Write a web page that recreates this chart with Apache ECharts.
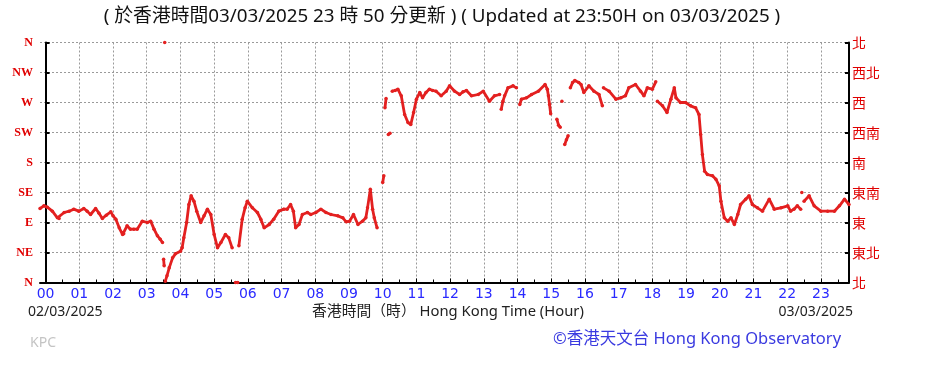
<!DOCTYPE html>
<html><head><meta charset="utf-8">
<script src="https://cdn.jsdelivr.net/npm/echarts@6/dist/echarts.min.js"></script>
<style>html,body{margin:0;padding:0;background:#fff}#c{width:938px;height:370px}</style>
</head><body><div id="c"></div>
<script>
// minutes after 00:00 on 02/03/2025 (null direction = gap in record)
const times = [
-10,-3,3,12,21,24,33,42,50,59,68,74,80,89,95,101,108,116,120,125,131,137,139,145,151,157,163,172,181,187,193,199,204,208,
209,210,211,211.5,212,212.5,
213,216,220,226,231,240,243,246,251,255,259,264,269,276,282,288,294,300,306,312,320,326,332,
335,338,342,343,
344,350,355,359,368,377,383,389,398,406,415,424,430,436,441,445,451,457,466,472,481,490,499,508,520,529,535,541,548,556,564,570,573,578,582,585,590,
595,600,602,603,604,606,608,610,613,615,
617,622,627,633,639,645,650,655,660,666,671,677,683,689,695,704,713,719,728,737,743,749,758,770,779,790,799,808,
809.5,811,814,817,823,832,838,841,
844,847,856,865,877,889,893,895,897,899,905,910,913,916,917,919,921,924,927,930,932,
934,938,942,949,953,958,967,976,985,991,992,
993,1003,1015,1024,1032,1038,1050,1059,1065,1071,1080,1086,1087,
1089,1098,1106,1113,1119,1122,1130,1139,1148,1157,1163,1166,1169,1173,1178,1187,1193,1199,1202,1208,1214,1220,1226,1232,1237,1246,1252,1258,1267,1276,1288,1297,1309,1321,1326,1332,1338,1344,
1345,1346,1347,
1350,1359,1368,1380,1392,1404,1413,1422,1430
];
const dirs = [
111,115,113,107,97,96,105,107,110,107,111,107,102,111,104,96,101,106,100,95,82,72,73,85,80,80,80,92,90,92,80,70,65,60,
null,35,25,null,360,null,
2,10,22,37,43,47,52,67,90,117,130,122,107,90,100,110,102,72,52,60,72,67,52,
null,0,0,null,
55,95,112,122,112,105,95,82,87,95,107,110,110,117,107,82,87,102,105,102,105,110,105,102,100,97,91,92,102,87,92,97,112,140,110,97,82,
null,150,160,null,262,276,null,222,224,null,
287,288,290,280,252,240,237,255,275,285,277,285,290,288,287,280,287,295,287,282,286,288,280,282,287,272,280,282,
null,260,272,280,292,295,292,null,
267,275,277,282,287,297,290,280,267,253,null,245,236,233,null,272,null,207,214,220,null,
292,300,303,300,297,285,295,287,282,265,null,
292,287,275,277,280,292,297,287,280,292,290,301,null,
272,265,255,275,292,277,270,270,265,262,252,222,192,167,162,160,155,145,122,97,92,97,87,102,117,125,130,117,112,107,125,110,112,115,107,110,115,110,
null,135,null,
122,130,115,107,107,107,115,125,117
];
const hourLabels = ['00','01','02','03','04','05','06','07','08','09','10','11','12','13','14','15','16','17','18','19','20','21','22','23'];
const dirLabelsEn = ['N','NE','E','SE','S','SW','W','NW','N'];
const dirLabelsZh = ['北','東北','東','東南','南','西南','西','西北','北'];

const seriesData = times.map((t, i) => [t, dirs[i] === null ? '-' : dirs[i]]);

const RED = '#e32020';
const chart = echarts.init(document.getElementById('c'), null, {renderer: 'canvas'});
const gridTop = 42.5, gridBottom = 87.5, gridLeft = 40, gridRight = 89;
const plotW = 938 - gridLeft - gridRight;
const xMin = -10, xMax = 1430;
const grid1Left = gridLeft + (0 - xMin) / (xMax - xMin) * plotW;

chart.setOption({
  animation: false,
  grid: [
    {left: gridLeft, right: gridRight, top: gridTop, bottom: gridBottom},
    {left: grid1Left, right: gridRight, top: gridTop, bottom: gridBottom}
  ],
  xAxis: [
    {gridIndex: 0, type: 'value', min: xMin, max: xMax,
     axisLine: {show: true, onZero: false, lineStyle: {color: '#000', width: 2}},
     axisTick: {show: false}, axisLabel: {show: false}, splitLine: {show: false}},
    {gridIndex: 1, type: 'value', min: 0, max: xMax, interval: 60,
     axisLine: {show: false},
     axisTick: {show: true, inside: true, length: 4, lineStyle: {color: '#000'}},
     minorTick: {show: true, splitNumber: 2, length: 3, lineStyle: {color: '#000'}},
     axisLabel: {color: '#2a2aff', fontSize: 14, fontFamily: 'DejaVu Sans', margin: 5,
       formatter: v => (v % 60 === 0 && v / 60 < 24) ? hourLabels[v / 60] : ''},
     splitLine: {show: true, lineStyle: {color: '#9a9a9a', type: [2, 2], width: 1}}}
  ],
  yAxis: [
    {gridIndex: 0, type: 'value', min: 0, max: 360, interval: 45, position: 'left',
     axisLine: {show: true, lineStyle: {color: '#000', width: 2}},
     axisTick: {show: true, inside: true, length: 4, lineStyle: {color: '#000', width: 2}},
     axisLabel: {color: '#e00000', fontFamily: 'Liberation Serif', fontSize: 12, fontWeight: 'bold', margin: 7,
       formatter: v => dirLabelsEn[Math.round(v / 45)]},
     splitLine: {show: true, lineStyle: {color: '#9a9a9a', type: [2, 2], width: 1}}},
    {gridIndex: 1, type: 'value', min: 0, max: 360, show: false, splitLine: {show: false}},
    {gridIndex: 0, type: 'value', min: 0, max: 360, interval: 45, position: 'right',
     axisLine: {show: true, lineStyle: {color: '#000', width: 2}},
     axisTick: {show: true, inside: true, length: 4, lineStyle: {color: '#000', width: 2}},
     axisLabel: {color: '#e00000', fontFamily: 'Noto Sans CJK TC', fontSize: 14, margin: 3,
       formatter: v => dirLabelsZh[Math.round(v / 45)]},
     splitLine: {show: false}}
  ],
  series: [{
    type: 'line', xAxisIndex: 0, yAxisIndex: 0, data: seriesData,
    connectNulls: false, showSymbol: true, symbol: 'circle', symbolSize: 3.5,
    lineStyle: {color: RED, width: 2.8}, itemStyle: {color: RED}, clip: false
  }],
  graphic: [
    {type: 'text', x: 442, y: 17, style: {
      text: '( 於香港時間03/03/2025 23 時 50 分更新 ) ( Updated at 23:50H on 03/03/2025 )',
      fill: '#111', font: '18.8px "Noto Sans", "Noto Sans CJK TC"', align: 'center', verticalAlign: 'middle'}},
    {type: 'text', x: 28, y: 312, style: {text: '02/03/2025', fill: '#222', font: '14px "Noto Sans"', verticalAlign: 'middle'}},
    {type: 'text', x: 448, y: 312, style: {text: '香港時間（時） Hong Kong Time (Hour)', fill: '#222', font: '14.8px "Noto Sans", "Noto Sans CJK TC"', align: 'center', verticalAlign: 'middle'}},
    {type: 'text', x: 853, y: 312, style: {text: '03/03/2025', fill: '#222', font: '14px "Noto Sans"', align: 'right', verticalAlign: 'middle'}},
    {type: 'text', x: 30, y: 343, style: {text: 'KPC', fill: '#c4c4c4', font: '14px "Noto Sans"', verticalAlign: 'middle'}},
    {type: 'text', x: 553, y: 339, style: {text: '©香港天文台 Hong Kong Observatory', fill: '#3a3ae0', font: '16.5px "Noto Sans", "Noto Sans CJK TC"', verticalAlign: 'middle'}}
  ]
});
</script></body></html>
